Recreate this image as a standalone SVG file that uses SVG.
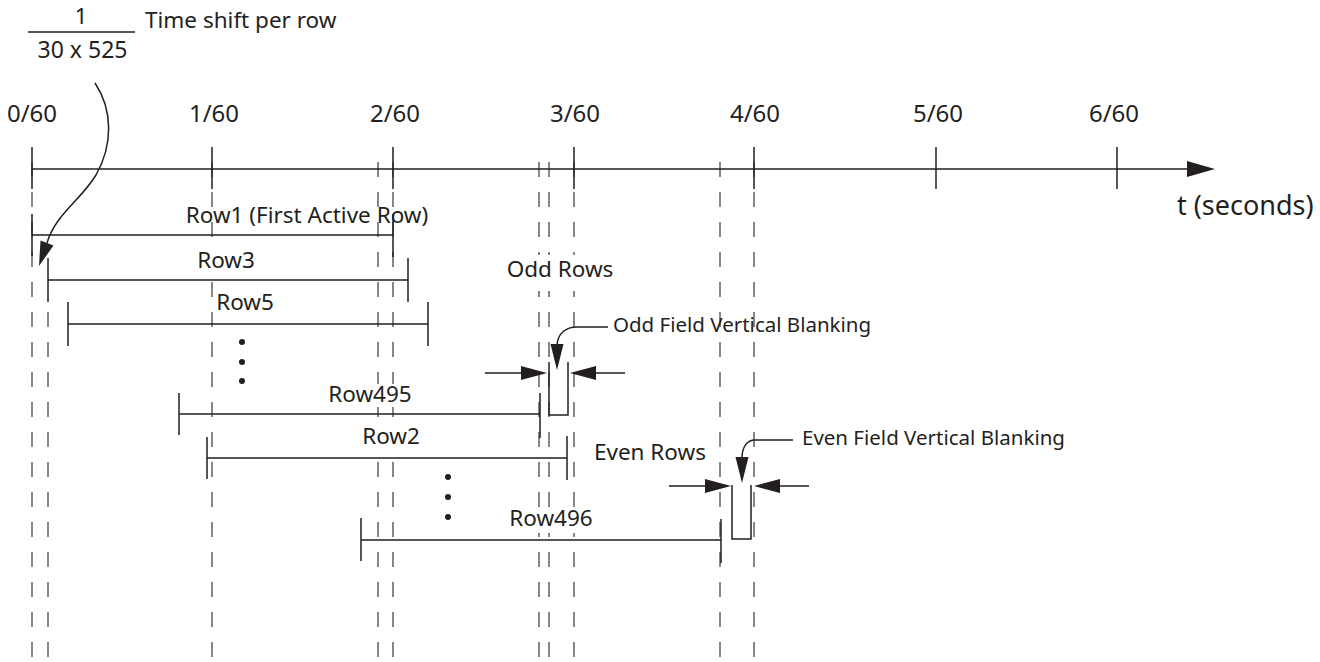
<svg xmlns="http://www.w3.org/2000/svg" width="1320" height="662" viewBox="0 0 1320 662">
<defs>
<style>
text{font-family:"Noto Sans","Liberation Sans",sans-serif;fill:#231f20}
.tick{font-size:24px;text-anchor:middle}
.lbl{font-size:22.5px;text-anchor:middle}
.note{font-size:20.5px}
.ln{stroke:#231f20;stroke-width:1.5;fill:none}
.dash{stroke:#555;stroke-width:1.4;stroke-dasharray:15 15;fill:none}
.ko{fill:#fff}
.ah{fill:#231f20}
</style>
</defs>
<rect width="1320" height="662" fill="#fff"/>
<g id="guides">
<path class="dash" d="M32,162V657M48,312V657M212,162V657M378,162V657M393,162V657M539,162V657M549,162V657M574,162V657M720,162V657M754,162V657"/>
</g>
<g id="axis">
<path class="ln" d="M32,169H1190M32,147V189M212,147V189M393,147V189M574,147V189M754,147V189M936,147V189M1117,147V189"/>
<polygon class="ah" points="1215,169 1187,161 1187,177"/>
<text class="tick" x="32" y="122">0/60</text>
<text class="tick" x="214" y="122">1/60</text>
<text class="tick" x="395" y="122">2/60</text>
<text class="tick" x="575" y="122">3/60</text>
<text class="tick" x="755" y="122">4/60</text>
<text class="tick" x="938" y="122">5/60</text>
<text class="tick" x="1114" y="122">6/60</text>
<text x="1177" y="215" style="font-size:27px">t (seconds)</text>
</g>
<g id="time-shift">
<text x="81" y="24" style="font-size:22px;text-anchor:middle">1</text>
<path class="ln" d="M28,32H135"/>
<text x="82.5" y="58" style="font-size:23px;text-anchor:middle">30 x 525</text>
<text x="145" y="28" style="font-size:22.5px">Time shift per row</text>
</g>
<g id="row1">
<text class="lbl" x="307" y="223">Row1 (First Active Row)</text>
<path class="ln" d="M32,235H393M32,214V256M393,214V257"/>
</g>
<g id="row3">
<rect class="ko" x="196" y="251" width="60" height="22"/>
<text class="lbl" x="226" y="268">Row3</text>
<path class="ln" d="M48,280H408M48,258V302M408,258V302"/>
</g>
<g id="row5">
<text class="lbl" x="245" y="310">Row5</text>
<path class="ln" d="M68,324H428M68,302V346M428,302V346"/>
</g>
<g id="odd-dots">
<circle class="ah" cx="242" cy="342" r="3"/>
<circle class="ah" cx="242" cy="362" r="3"/>
<circle class="ah" cx="242" cy="381" r="3"/>
</g>
<g id="row495">
<rect class="ko" x="326" y="384" width="89" height="23"/>
<text class="lbl" x="370" y="402">Row495</text>
<path class="ln" d="M179,414H540M179,393V435M540,393V438"/>
</g>
<g id="row2">
<rect class="ko" x="360" y="427" width="62" height="22"/>
<text class="lbl" x="391" y="444">Row2</text>
<path class="ln" d="M207,458H567M207,437V479M567,436V480"/>
</g>
<g id="even-dots">
<circle class="ah" cx="448" cy="477" r="3"/>
<circle class="ah" cx="448" cy="497" r="3"/>
<circle class="ah" cx="448" cy="517" r="3"/>
</g>
<g id="row496">
<rect class="ko" x="506" y="508" width="91" height="25"/>
<text class="lbl" x="551" y="526">Row496</text>
<path class="ln" d="M361,540H721M361,518V561M721,519V563"/>
</g>
<g id="odd-rows">
<rect class="ko" x="505" y="255" width="109" height="36"/>
<text class="lbl" x="560" y="277">Odd Rows</text>
</g>
<g id="even-rows">
<text class="lbl" x="650" y="460">Even Rows</text>
</g>
<g id="odd-blanking">
<path class="ln" d="M549,362V415H568V362"/>
<text class="note" x="613" y="332">Odd Field Vertical Blanking</text>
</g>
<g id="even-blanking">
<path class="ln" d="M732,485V539H751V485"/>
<text class="note" x="802" y="445">Even Field Vertical Blanking</text>
</g>
<g id="connectors">
<path class="ln" d="M95,83C113,110 113,145 96,175C81,200 55,215 47,243"/>
<polygon class="ah" points="39,266 40.5,240.5 53.5,245.5"/>
<path class="ln" d="M608,327H577C566,327 558,333 557,345"/>
<polygon class="ah" points="557,370 550.5,344 563.5,344"/>
<path class="ln" d="M485,373H522M625,373H596"/>
<polygon class="ah" points="547,373 521,366 521,380"/>
<polygon class="ah" points="570,373 596,366 596,380"/>
<path class="ln" d="M793,440H755C747,440 742,447 742,458"/>
<polygon class="ah" points="742,483 735.5,457 748.5,457"/>
<path class="ln" d="M669,486H706M809,486H780"/>
<polygon class="ah" points="731,486 705,479 705,493"/>
<polygon class="ah" points="754,486 780,479 780,493"/>
</g>
</svg>
